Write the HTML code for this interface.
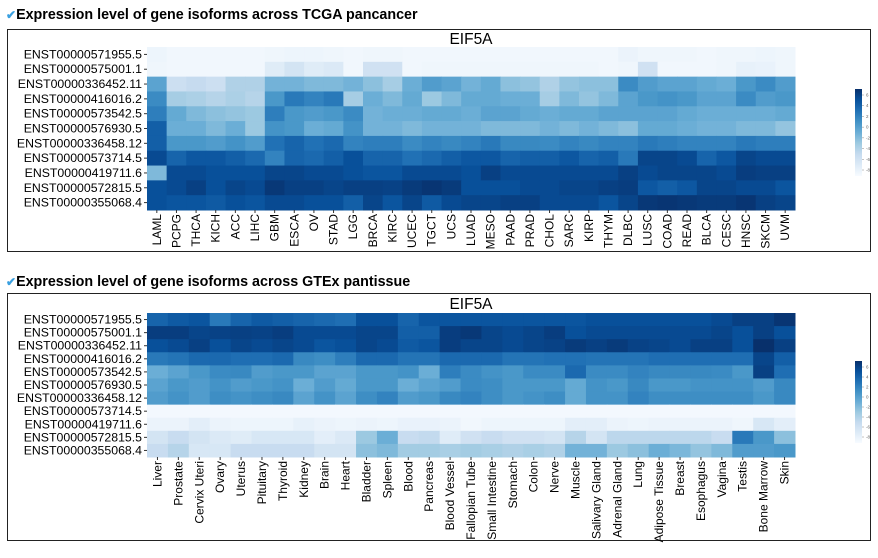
<!DOCTYPE html>
<html><head><meta charset="utf-8"><style>
body{margin:0;background:#fff;width:878px;height:558px;overflow:hidden;font-family:"Liberation Sans",sans-serif}
.h{position:absolute;left:6px;font-weight:bold;font-size:14.3px;color:#000}
.h span{color:#3aa0e0;font-size:12px}
.box{position:absolute;border:1px solid #222}
</style></head><body>
<div class="h" style="top:7px"><span>✔</span>Expression level of gene isoforms across TCGA pancancer</div>
<div class="box" style="left:7px;top:29px;width:862px;height:221px"></div>
<div class="h" style="top:274px"><span>✔</span>Expression level of gene isoforms across GTEx pantissue</div>
<div class="box" style="left:7px;top:293px;width:862px;height:246px"></div>
<svg id="s" width="878" height="558" style="position:absolute;left:0;top:0"></svg>
<script>
const rowsLabels=["ENST00000571955.5","ENST00000575001.1","ENST00000336452.11","ENST00000416016.2","ENST00000573542.5","ENST00000576930.5","ENST00000336458.12","ENST00000573714.5","ENST00000419711.6","ENST00000572815.5","ENST00000355068.4"];
const tcgaCats=["LAML","PCPG","THCA","KICH","ACC","LIHC","GBM","ESCA","OV","STAD","LGG","BRCA","KIRC","UCEC","TGCT","UCS","LUAD","MESO","PAAD","PRAD","CHOL","SARC","KIRP","THYM","DLBC","LUSC","COAD","READ","BLCA","CESC","HNSC","SKCM","UVM"];
const tcgaVals=[
[.05,.03,.03,.03,.03,.03,.04,.05,.05,.04,.03,.04,.04,.03,.03,.03,.03,.03,.03,.03,.03,.03,.03,.03,.06,.04,.04,.04,.03,.04,.04,.05,.04],
[.04,.03,.03,.03,.03,.03,.12,.18,.12,.14,.03,.2,.2,.03,.04,.04,.04,.04,.04,.04,.04,.04,.04,.03,.04,.2,.03,.03,.03,.04,.08,.07,.04],
[.55,.22,.25,.22,.32,.32,.48,.48,.45,.45,.48,.42,.35,.5,.58,.55,.48,.52,.42,.4,.32,.4,.42,.42,.65,.58,.55,.55,.52,.5,.6,.65,.58],
[.65,.35,.33,.3,.33,.3,.6,.72,.68,.72,.35,.5,.45,.52,.38,.45,.52,.52,.5,.5,.35,.45,.4,.45,.55,.6,.62,.6,.55,.55,.65,.58,.6],
[.7,.52,.45,.42,.4,.38,.7,.6,.58,.6,.65,.48,.5,.5,.52,.52,.5,.55,.55,.52,.5,.52,.52,.55,.55,.55,.55,.52,.5,.5,.5,.5,.52],
[.82,.5,.5,.45,.5,.38,.62,.6,.5,.52,.62,.48,.48,.45,.48,.48,.48,.45,.45,.45,.48,.45,.48,.45,.42,.52,.52,.5,.48,.48,.45,.45,.4],
[.82,.6,.6,.58,.62,.58,.75,.8,.75,.78,.68,.7,.7,.65,.68,.66,.68,.72,.66,.66,.65,.68,.66,.68,.68,.72,.7,.68,.68,.68,.72,.7,.7],
[.9,.8,.85,.85,.82,.78,.68,.8,.78,.82,.88,.8,.8,.75,.78,.82,.85,.85,.8,.82,.82,.85,.8,.82,.72,.92,.92,.9,.8,.85,.92,.9,.9],
[.45,.9,.9,.88,.88,.88,.92,.92,.9,.9,.88,.86,.86,.9,.9,.9,.88,.94,.9,.9,.9,.9,.9,.9,.94,.9,.92,.92,.92,.9,.95,.94,.94],
[.88,.9,.94,.88,.92,.9,.97,.94,.94,.92,.94,.94,.93,.96,.98,.96,.88,.88,.88,.9,.9,.92,.92,.94,.95,.85,.82,.85,.92,.92,.9,.9,.86],
[.88,.86,.86,.84,.88,.86,.9,.9,.88,.88,.82,.92,.86,.92,.84,.9,.92,.92,.94,.94,.9,.9,.9,.86,.92,.97,.98,.97,.96,.96,.98,.94,.92]];
const gtexCats=["Liver","Prostate","Cervix Uteri","Ovary","Uterus","Pituitary","Thyroid","Kidney","Brain","Heart","Bladder","Spleen","Blood","Pancreas","Blood Vessel","Fallopian Tube","Small Intestine","Stomach","Colon","Nerve","Muscle","Salivary Gland","Adrenal Gland","Lung","Adipose Tissue","Breast","Esophagus","Vagina","Testis","Bone Marrow","Skin"];
const gtexVals=[
[.8,.84,.86,.72,.8,.84,.82,.8,.78,.76,.88,.88,.8,.86,.86,.86,.86,.86,.86,.86,.86,.88,.88,.88,.88,.88,.88,.9,.94,.94,.98],
[.95,.95,.92,.93,.94,.93,.95,.9,.9,.9,.92,.92,.82,.82,.95,.97,.92,.9,.92,.95,.88,.9,.9,.9,.9,.9,.9,.92,.88,.94,.88],
[.88,.9,.94,.88,.92,.9,.92,.9,.86,.88,.92,.9,.84,.86,.95,.92,.92,.9,.92,.93,.96,.94,.96,.93,.92,.9,.94,.94,.88,1,.94],
[.72,.74,.78,.78,.76,.76,.78,.66,.64,.7,.78,.78,.74,.74,.78,.78,.78,.74,.74,.75,.75,.74,.74,.74,.76,.76,.76,.76,.76,.92,.82],
[.5,.55,.6,.65,.66,.58,.6,.6,.55,.55,.6,.6,.62,.5,.7,.65,.62,.6,.65,.65,.78,.65,.65,.68,.66,.66,.66,.65,.6,.94,.76],
[.55,.6,.58,.62,.58,.6,.62,.5,.58,.52,.6,.6,.5,.55,.58,.65,.64,.6,.6,.6,.52,.62,.6,.66,.6,.6,.62,.62,.62,.58,.66],
[.58,.62,.58,.64,.62,.64,.66,.55,.62,.55,.64,.68,.58,.6,.66,.68,.64,.6,.62,.64,.52,.62,.62,.68,.64,.64,.64,.64,.64,.6,.66],
[.02,.02,.02,.02,.02,.02,.02,.02,.02,.02,.02,.02,.02,.02,.02,.02,.02,.02,.02,.02,.02,.02,.02,.02,.02,.02,.02,.02,.02,.02,.02],
[.06,.06,.1,.06,.05,.05,.05,.08,.06,.05,.06,.05,.07,.07,.06,.03,.05,.05,.05,.05,.1,.1,.06,.05,.06,.06,.06,.06,.04,.16,.1],
[.18,.24,.18,.14,.12,.16,.16,.16,.1,.14,.38,.5,.24,.26,.12,.2,.24,.2,.2,.18,.3,.18,.28,.28,.28,.28,.28,.24,.72,.6,.42],
[.24,.3,.16,.16,.24,.24,.24,.24,.18,.18,.42,.45,.36,.36,.34,.36,.34,.32,.34,.32,.48,.48,.38,.42,.5,.46,.4,.45,.58,.58,.6]];
const cbTicks=["6","4","2","0","-2","-4","-6","-8"];
const stops=["#f7fbff","#deebf7","#c6dbef","#9ecae1","#6baed6","#4292c6","#2171b5","#08519c","#08306b"];
function hx(c){return [1,3,5].map(i=>parseInt(c.substr(i,2),16));}
function blues(v){v=Math.max(0,Math.min(1,v));const p=v*8,i=Math.min(7,Math.floor(p)),f=p-i;const a=hx(stops[i]),b=hx(stops[i+1]);return "rgb("+a.map((x,k)=>Math.round(x+(b[k]-x)*f)).join(",")+")";}
const NS="http://www.w3.org/2000/svg",svg=document.getElementById("s");
function mk(t,at,txt){const e=document.createElementNS(NS,t);for(const k in at)e.setAttribute(k,at[k]);if(txt!=null)e.textContent=txt;svg.appendChild(e);return e;}
function heat(key,cats,vals,L,R,T,B,titleY,cbT,cbB){
  const cw=(R-L)/cats.length,rh=(B-T)/rowsLabels.length;
  const xs=i=>L+i*cw, ys=j=>T+j*rh;
  const t=mk("text",{x:(L+R)/2,y:titleY,"text-anchor":"middle","font-size":"15.5","font-family":"Liberation Sans, sans-serif"},"EIF5A");
  
  
  vals.forEach((row,j)=>row.forEach((v,i)=>{
    const r=mk("rect",{x:xs(i),y:ys(j),width:cw+0.5,height:rh+0.5,fill:blues(v)});
    
    
  }));
  rowsLabels.forEach((l,j)=>{
    const e=mk("text",{x:L-5,y:ys(j)+rh/2+4,"text-anchor":"end","font-size":"12.3","font-family":"Liberation Sans, sans-serif"},l);
    
    
    mk("line",{x1:L-3,x2:L,y1:ys(j)+rh/2,y2:ys(j)+rh/2,stroke:"#333"});
  });
  cats.forEach((c,i)=>{
    const x=xs(i)+cw/2+4,y=B+4;
    const e=mk("text",{x:x,y:y,transform:"rotate(-90 "+x+" "+y+")","text-anchor":"end","font-size":"12","font-family":"Liberation Sans, sans-serif"},c);
    
    
    mk("line",{x1:xs(i)+cw/2,x2:xs(i)+cw/2,y1:B,y2:B+3,stroke:"#333"});
  });
  const g=mk("defs",{});
  const lg=document.createElementNS(NS,"linearGradient");lg.setAttribute("id","g"+key);lg.setAttribute("x1","0");lg.setAttribute("y1","1");lg.setAttribute("x2","0");lg.setAttribute("y2","0");
  stops.forEach((s,k)=>{const st=document.createElementNS(NS,"stop");st.setAttribute("offset",k/8);st.setAttribute("stop-color",s);lg.appendChild(st);});
  g.appendChild(lg);
  const cb=mk("rect",{x:855,y:cbT,width:7,height:cbB-cbT,fill:"url(#g"+key+")"});
  
  
  cbTicks.forEach((tk,k)=>{const y=cbT+6+k*(cbB-cbT-12)/(cbTicks.length-1);
    mk("line",{x1:862,x2:864,y1:y,y2:y,stroke:"#888","stroke-width":0.5});
    const e=mk("text",{x:866,y:y+1.5,"font-size":"4.5",fill:"#666","font-family":"Liberation Sans, sans-serif"},tk);
    
    });
}
heat("tcga",tcgaCats,tcgaVals,147,795,47,210,44,89,176);
heat("gtex",gtexCats,gtexVals,147,795,313,457,309,361,443);
</script>
</body></html>
